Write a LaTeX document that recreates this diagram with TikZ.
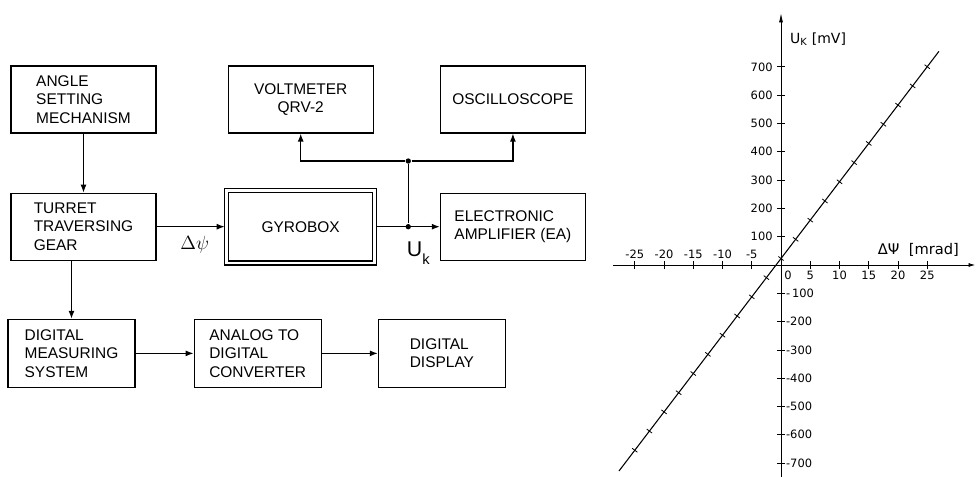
\documentclass[tikz,border=0pt]{standalone}
\usepackage[no-math]{fontspec}
\setmainfont{Liberation Sans}
\newfontfamily\plotfont{DejaVu Sans}
\usepackage{tikz}
\usetikzlibrary{positioning,calc,arrows.meta}

\begin{document}
\begin{tikzpicture}[x=0.75pt, y=-0.75pt, >={Latex[length=6pt,width=4.5pt]}, line width=0.9pt,
  every node/.style={font=\fontsize{11.6}{13.75}\selectfont},
  blk/.style={draw, align=left, minimum width=108.75pt, minimum height=50.25pt, inner sep=0pt},
  lowblk/.style={blk, minimum width=95.25pt, minimum height=51pt},
  gyrobox/.style={blk, double, double distance=2.1pt, minimum width=111pt, minimum height=54.4pt, outer sep=1.5pt},
  dot/.style={circle, fill, inner sep=0pt, minimum size=4pt},
  ticklbl/.style={font=\plotfont\fontsize{8.6}{10}\selectfont, inner sep=0pt}]
  \useasboundingbox (0,0) rectangle (977,477);

  % block diagram
  \node[blk] (angle) at (83.5,99.5) {ANGLE\\SETTING\\MECHANISM};
  \node[blk, below=44.25pt of angle] (turret) {TURRET\\TRAVERSING\\GEAR};
  \node[blk, align=center, right=53.25pt of angle] (volt) {VOLTMETER\\QRV-2};
  \node[blk, right=49.5pt of volt] (osc) {OSCILLOSCOPE};
  \node[gyrobox, align=center] (gyro) at (volt |- turret) {GYROBOX};
  \node[blk] (ea) at (osc |- turret) {ELECTRONIC\\AMPLIFIER (EA)};
  \node[lowblk, below=43.5pt of turret.south west, anchor=north west, xshift=-2.25pt] (digital) {DIGITAL\\MEASURING\\SYSTEM};
  \node[lowblk, right=43.5pt of digital] (adc) {ANALOG TO\\DIGITAL\\CONVERTER};
  \node[lowblk, right=42pt of adc] (display) {DIGITAL\\DISPLAY};

  \node[dot] (jlow) at ($(gyro.east)!0.5!(ea.west)$) {};
  \coordinate (mid) at ($(volt.south)!0.5!(gyro.north)$);
  \node[dot] (jtop) at (jlow |- mid) {};

  \draw[->] (angle) -- (turret);
  \draw[->] (turret) -- (gyro) node[midway, below=3.5pt, xshift=3pt, font=\fontsize{14.5}{14.5}\selectfont] (dpsi) {$\Delta\psi$};
  \draw[->] (gyro) -- (ea);
  \draw (jlow) -- (jtop);
  \draw[->] (jtop) -| (volt.south);
  \draw[->] (jtop) -| (osc.south);
  \node[anchor=base west, inner sep=0pt] (uk) at ($(jlow)+(-2,30)$)
    {{\fontsize{16}{16}\selectfont U}\raisebox{-5.5pt}{\fontsize{11}{11}\selectfont k}};
  \draw[->] (digital.north |- turret.south) -- (digital.north);
  \draw[->] (digital) -- (adc);
  \draw[->] (adc) -- (display);

  % characteristic U_K over delta psi
  \begin{scope}[xshift=585.75pt, yshift=-198.75pt, x=4.3875pt, y=0.21225pt, line width=0.6pt,
    every node/.style={ticklbl}]
    \draw[-{Latex[length=5pt,width=3pt]}] (-28.7,0) -- (33.2,0);
    \draw[-{Latex[length=7pt,width=3pt]}] (0,-750) -- (0,890);
    \foreach \v in {5,10,...,25} {
      \draw (\v,0) ++(0,-3pt) -- ++(0,6pt);
      \draw (-\v,0) ++(0,-3pt) -- ++(0,6pt);
      \node[anchor=north] (xp\v) at ([yshift=-4.5pt]\v,0) {\v};
      \node[anchor=south] (xn\v) at ([yshift=4.5pt]-\v,0) {-\v};
    }
    \node[anchor=north] (x0) at ([yshift=-4.5pt]1.2,0) {0};
    \foreach \v in {100,200,...,700} {
      \draw (0,\v) ++(-3pt,0) -- ++(6pt,0);
      \draw (0,-\v) ++(-3pt,0) -- ++(6pt,0);
      \node[anchor=east] (yp\v) at ([xshift=-6pt]0,\v) {\v};
    }
    \node[anchor=west] (yn100) at ([xshift=3.5pt]0,-100) {-\,100};
    \foreach \v in {200,300,...,700}
      \node[anchor=west] (yn\v) at ([xshift=3.5pt]0,-\v) {-\v};
    \node[anchor=west, font=\plotfont\fontsize{10.5}{12}\selectfont] (ylab) at ([xshift=6.5pt]0,798) {U\textsubscript{K} [mV]};
    \node[anchor=south west, font=\plotfont\fontsize{11}{13}\selectfont] (xlab) at ([yshift=6pt]16.5,0) {ΔΨ\ \ [mrad]};
    \draw[line width=0.8pt] (-27.7,-728) -- (27,755);
    \foreach \p in {-25,-22.5,...,25}
      \draw ({\p},{27.1*\p+23}) ++(142.7:2.5pt) -- ++(-37.3:5pt);
  \end{scope}
\end{tikzpicture}
\end{document}
